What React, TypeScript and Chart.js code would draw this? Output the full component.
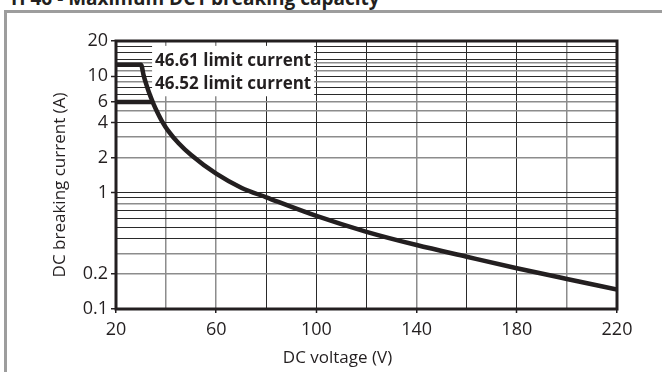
import React, { useEffect, useRef } from "react";
import { Chart, registerables } from "chart.js";

Chart.register(...registerables);

const TITLE = "H 46 - Maximum DC1 breaking capacity";
const X_TITLE = "DC voltage (V)";
const Y_TITLE = "DC breaking current (A)";

// 46.61 curve (12.5 A limit plateau then decay)
const VOLTAGE_46_61 = [20, 30, 31, 32, 33, 34, 35, 36.5, 38.5, 41, 45, 50, 60, 70, 80, 100, 120, 140, 160, 180, 200, 220];
const CURRENT_46_61 = [12.5, 12.5, 10.2, 8.6, 7.4, 6.5, 5.75, 4.9, 4.05, 3.35, 2.65, 2.1, 1.45, 1.1, 0.91, 0.63, 0.46, 0.354, 0.281, 0.224, 0.181, 0.147];
// 46.52 limit (6 A plateau joining the curve)
const VOLTAGE_46_52 = [20, 34.5];
const CURRENT_46_52 = [6, 6];

const X_TICKS = [20, 40, 60, 80, 100, 120, 140, 160, 180, 200, 220];
const X_LABELS = [20, 60, 100, 140, 180, 220];
const Y_GRID = [0.1, 0.2, 0.3, 0.4, 0.5, 0.6, 0.7, 0.8, 0.9, 1, 2, 3, 4, 5, 6, 7, 8, 9, 10, 11, 12, 13, 14, 16, 18, 20];
const Y_LABELS = [0.1, 0.2, 1, 2, 4, 6, 10, 20];
const Y_DARK = [18, 16, 14, 12, 10, 8, 7, 4, 1, 0.9, 0.7, 0.6, 0.5, 0.4];
const X_DARK = [80, 100, 120, 160, 180];

const LIMIT_LABELS = ["46.61 limit current", "46.52 limit current"];
const LIMIT_LABEL_V = 35.6;
const LIMIT_LABEL_A = [13.5, 8.5];

const INK = "#231f20";

const overlayPlugin = {
  id: "overlay",
  beforeDatasetsDraw(chart: any) {
    const { ctx, scales } = chart;
    const x = scales.x;
    const y = scales.y;
    ctx.save();
    ctx.font = 'bold 17px "Open Sans"';
    const left = x.getPixelForValue(LIMIT_LABEL_V);
    const w = Math.max(...LIMIT_LABELS.map((t) => ctx.measureText(t).width));
    const top = y.getPixelForValue(LIMIT_LABEL_A[0]) - 15;
    const bottom = y.getPixelForValue(LIMIT_LABEL_A[1]) + 12;
    ctx.fillStyle = "#ffffff";
    ctx.fillRect(left - 3, top, w + 6, bottom - top);
    ctx.fillStyle = INK;
    ctx.textBaseline = "middle";
    ctx.textAlign = "left";
    LIMIT_LABELS.forEach((t, i) => ctx.fillText(t, left, y.getPixelForValue(LIMIT_LABEL_A[i])));
    ctx.restore();
  },
  afterDatasetsDraw(chart: any) {
    const { ctx, chartArea } = chart;
    ctx.save();
    ctx.strokeStyle = INK;
    ctx.lineWidth = 3;
    ctx.strokeRect(chartArea.left, chartArea.top, chartArea.right - chartArea.left, chartArea.bottom - chartArea.top);
    ctx.restore();
  },
  afterDraw(chart: any) {
    const { ctx, chartArea } = chart;
    ctx.save();
    ctx.fillStyle = INK;
    ctx.font = '17px "Open Sans"';
    ctx.textAlign = "center";
    ctx.textBaseline = "middle";
    ctx.fillText(X_TITLE, (chartArea.left + chartArea.right) / 2 - 29, 358);
    ctx.translate(60, (chartArea.top + chartArea.bottom) / 2 + 10);
    ctx.rotate(-Math.PI / 2);
    ctx.fillText(Y_TITLE, 0, 0);
    ctx.restore();
  },
};

function App() {
  const canvasRef = useRef<HTMLCanvasElement | null>(null);

  useEffect(() => {
    if (!canvasRef.current) return;
    const chart = new Chart(canvasRef.current, {
      type: "line",
      data: {
        datasets: [
          {
            label: "46.61",
            data: VOLTAGE_46_61.map((v, i) => ({ x: v, y: CURRENT_46_61[i] })),
            borderColor: INK,
            borderWidth: 4.5,
            pointRadius: 0,
            cubicInterpolationMode: "monotone",
            borderJoinStyle: "round",
            fill: false,
          },
          {
            label: "46.52",
            data: VOLTAGE_46_52.map((v, i) => ({ x: v, y: CURRENT_46_52[i] })),
            borderColor: INK,
            borderWidth: 4.5,
            pointRadius: 0,
            fill: false,
          },
        ],
      },
      options: {
        responsive: false,
        animation: false,
        devicePixelRatio: 1,
        layout: { padding: { left: 0, right: 45, top: 41, bottom: 0 } },
        plugins: { legend: { display: false }, tooltip: { enabled: false }, title: { display: false } },
        scales: {
          x: {
            type: "linear",
            min: 20,
            max: 220,
            afterBuildTicks: (s: any) => {
              s.ticks = X_TICKS.map((v) => ({ value: v }));
            },
            afterFit: (s: any) => {
              s.height = 63;
            },
            ticks: {
              autoSkip: false,
              maxRotation: 0,
              padding: 6,
              color: INK,
              font: { family: '"Open Sans"', size: 18 },
              callback: (v: any) => (X_LABELS.includes(Number(v)) ? String(v) : ""),
            },
            grid: {
              color: (c: any) => (c.tick && X_DARK.includes(c.tick.value) ? "#2a2a2a" : "#8c8c8c"),
              lineWidth: (c: any) => (c.tick && X_DARK.includes(c.tick.value) ? 1 : 1.5),
              tickLength: 4,
              tickWidth: 1.5,
              tickColor: (c: any) => (c.tick && X_LABELS.includes(c.tick.value) ? INK : "rgba(0,0,0,0)"),
            },
            border: { display: false },
          },
          y: {
            type: "logarithmic",
            min: 0.1,
            max: 20,
            afterBuildTicks: (s: any) => {
              s.ticks = Y_GRID.map((v) => ({ value: v }));
            },
            afterFit: (s: any) => {
              s.width = 116;
            },
            ticks: {
              autoSkip: false,
              padding: 3,
              color: INK,
              font: { family: '"Open Sans"', size: 18 },
              callback: (v: any) => (Y_LABELS.includes(Number(v)) ? String(v) : ""),
            },
            grid: {
              color: (c: any) => (c.tick && Y_DARK.includes(c.tick.value) ? "#2a2a2a" : "#8c8c8c"),
              lineWidth: (c: any) => (c.tick && Y_DARK.includes(c.tick.value) ? 1 : 1.5),
              tickLength: 5,
              tickWidth: 1.5,
              tickColor: (c: any) => (c.tick && Y_LABELS.includes(c.tick.value) ? INK : "rgba(0,0,0,0)"),
            },
            border: { display: false },
          },
        },
      },
      plugins: [overlayPlugin],
    } as any);
    return () => chart.destroy();
  }, []);

  return (
    <div style={{ position: "fixed", left: 0, top: 0, width: 662, height: 372, overflow: "hidden", background: "#fff" }}>
      <div
        style={{
          position: "absolute",
          left: 11,
          top: -15,
          font: 'bold 19px "Open Sans"',
          lineHeight: "26px",
          whiteSpace: "nowrap",
          color: INK,
        }}
      >
        {TITLE}
      </div>
      <div
        style={{
          position: "absolute",
          left: 4,
          top: 10,
          width: 700,
          height: 400,
          borderLeft: "3px solid #9d9d9d",
          borderTop: "3px solid #9d9d9d",
        }}
      />
      <canvas ref={canvasRef} width={662} height={372} style={{ position: "absolute", left: 0, top: 0, width: 662, height: 372 }} />
    </div>
  );
}

export default App;
